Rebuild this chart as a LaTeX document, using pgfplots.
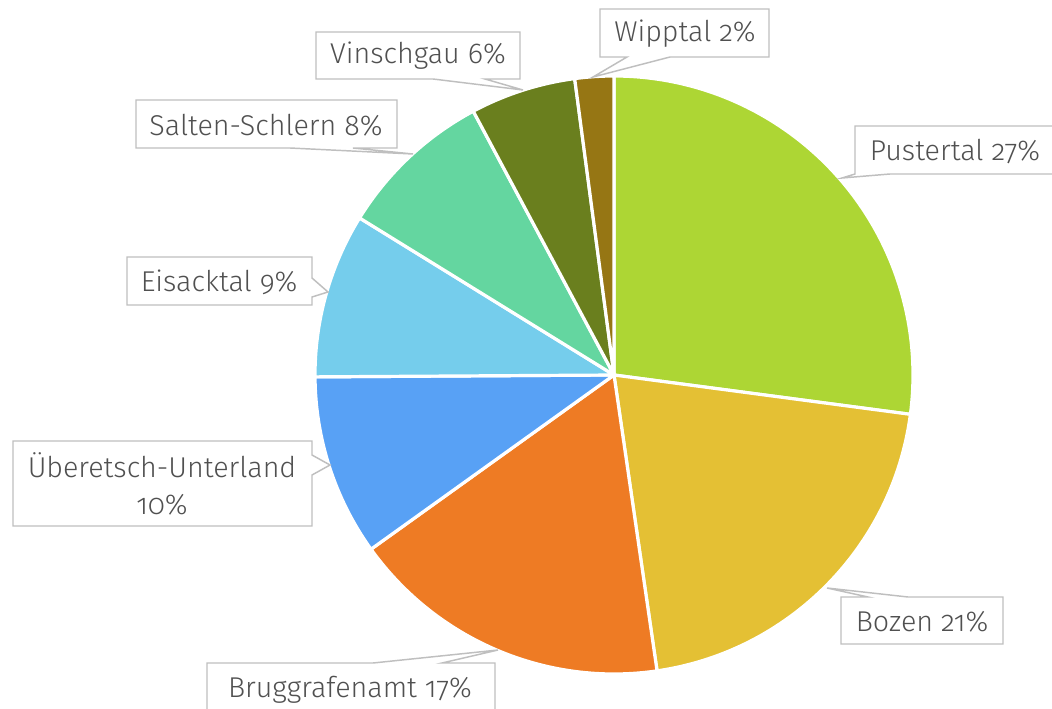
\documentclass[border=0pt]{standalone}
\usepackage{fontspec}
\setmainfont{Fira Sans}[UprightFont={* Light}, Numbers=OldStyle]
\usepackage{pgfplots}
\usepackage{pgfplotstable}
\pgfplotsset{compat=1.18}

\definecolor{cPus}{RGB}{173,214,52}
\definecolor{cBoz}{RGB}{228,192,52}
\definecolor{cBru}{RGB}{238,123,36}
\definecolor{cUeb}{RGB}{88,161,245}
\definecolor{cEis}{RGB}{117,205,236}
\definecolor{cSal}{RGB}{100,214,160}
\definecolor{cVin}{RGB}{106,127,30}
\definecolor{cWip}{RGB}{150,118,20}
\definecolor{txt}{RGB}{80,80,80}
\definecolor{brd}{RGB}{191,191,191}

% share of each district, percent, clockwise from 12 o'clock
\pgfplotstableread{
district value colour
Pustertal 27.1 cPus
Bozen 20.6 cBoz
Bruggrafenamt 17.4 cBru
Ueberetsch 9.8 cUeb
Eisacktal 8.9 cEis
Salten 8.4 cSal
Vinschgau 5.7 cVin
Wipptal 2.1 cWip
}\piedata

\begin{document}
\begin{tikzpicture}[
  callout/.style={draw=brd, fill=white, line width=1.1pt, line join=miter},
  lab/.style={text=txt, font=\fontsize{21.5}{25}\selectfont, inner sep=0pt}
]
\begin{axis}[
  scale only axis, width=789pt, height=531.75pt,
  xmin=0, xmax=1052, ymin=0, ymax=709, y dir=reverse,
  hide axis, clip=false
]
\def\ang{90}
\pgfplotstablegetrowsof{\piedata}
\pgfmathtruncatemacro{\nrows}{\pgfplotsretval-1}
\pgfplotsforeachungrouped \i in {0,...,\nrows}{
  \pgfplotstablegetelem{\i}{value}\of\piedata \let\v\pgfplotsretval
  \pgfplotstablegetelem{\i}{colour}\of\piedata \let\c\pgfplotsretval
  \pgfmathsetmacro{\angB}{\ang-3.6*\v}
  \edef\temp{\noexpand\fill[\c, draw=white, line width=2.4pt, line join=round]
    (axis cs:614,375) -- ++(\ang:224.25pt)
    arc[start angle=\ang, end angle=\angB, radius=224.25pt] -- cycle;}
  \temp
  \global\let\ang\angB
}

% Pustertal
\draw[callout] (axis cs:855,126) -- (axis cs:1062,126) -- (axis cs:1062,174)
  -- (axis cs:890,174) -- (axis cs:842,178) -- (axis cs:855,174) -- cycle;
\node[lab] at (axis cs:955,152) {Pustertal 27\%};
% Bozen
\draw[callout] (axis cs:841,597) -- (axis cs:868,597) -- (axis cs:827,588)
  -- (axis cs:908,597) -- (axis cs:1003,597) -- (axis cs:1003,644)
  -- (axis cs:841,644) -- cycle;
\node[lab] at (axis cs:922,622) {Bozen 21\%};
% Bruggrafenamt
\draw[callout] (axis cs:207,663) -- (axis cs:373,663) -- (axis cs:498,650)
  -- (axis cs:442,663) -- (axis cs:495,663) -- (axis cs:495,740)
  -- (axis cs:207,740) -- cycle;
\node[lab] at (axis cs:350,690) {Bruggrafenamt 17\%};
% Ueberetsch-Unterland
\draw[callout] (axis cs:13,441) -- (axis cs:312,441) -- (axis cs:312,455)
  -- (axis cs:330,465) -- (axis cs:312,475) -- (axis cs:312,526)
  -- (axis cs:13,526) -- cycle;
\node[lab, align=center] at (axis cs:162,484) {Überetsch-Unterland\\[3pt]10\%};
% Eisacktal
\draw[callout] (axis cs:127,257) -- (axis cs:312,257) -- (axis cs:312,278)
  -- (axis cs:328,292) -- (axis cs:312,297) -- (axis cs:312,305)
  -- (axis cs:127,305) -- cycle;
\node[lab] at (axis cs:219,282) {Eisacktal 9\%};
% Salten-Schlern
\draw[callout] (axis cs:136,100) -- (axis cs:397,100) -- (axis cs:397,148)
  -- (axis cs:353,148) -- (axis cs:413,154) -- (axis cs:290,148)
  -- (axis cs:136,148) -- cycle;
\node[lab] at (axis cs:266,125) {Salten-Schlern 8\%};
% Vinschgau
\draw[callout] (axis cs:316,32) -- (axis cs:520,32) -- (axis cs:520,79)
  -- (axis cs:485,79) -- (axis cs:523,90) -- (axis cs:433,79)
  -- (axis cs:316,79) -- cycle;
\node[lab] at (axis cs:418,56) {Vinschgau 6\%};
% Wipptal
\draw[callout] (axis cs:600,9) -- (axis cs:769,9) -- (axis cs:769,57)
  -- (axis cs:670,57) -- (axis cs:593,77) -- (axis cs:627,57)
  -- (axis cs:600,57) -- cycle;
\node[lab] at (axis cs:685,34) {Wipptal 2\%};
\end{axis}
\pgfresetboundingbox
\path (current axis.south west) rectangle (current axis.north east);
\end{tikzpicture}
\end{document}
